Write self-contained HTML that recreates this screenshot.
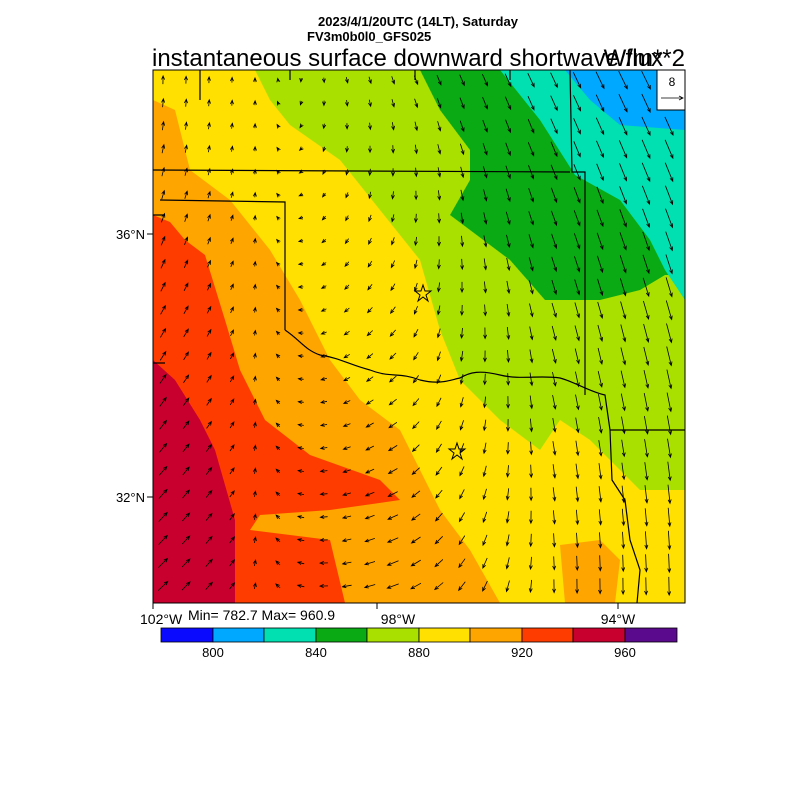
<!DOCTYPE html>
<html><head><meta charset="utf-8"><style>
body{margin:0;background:#fff;width:800px;height:800px;overflow:hidden;font-family:"Liberation Sans",sans-serif}
</style></head><body>
<svg id="s" width="800" height="800" xmlns="http://www.w3.org/2000/svg" font-family="Liberation Sans, sans-serif">
<defs><clipPath id="c"><rect x="153" y="70" width="532" height="533"/></clipPath></defs>
<text x="418" y="26" font-size="13" font-weight="bold" text-anchor="middle">2023/4/1/20UTC (14LT), Saturday</text>
<text x="307" y="41" font-size="13" font-weight="bold">FV3m0b0l0_GFS025</text>
<text x="152" y="66" font-size="24">instantaneous surface downward shortwave flux</text>
<text x="685" y="66" font-size="24" text-anchor="end">W/m**2</text>
<g clip-path="url(#c)">
<rect x="153" y="70" width="532" height="533" fill="#ffe000"/>
<polygon fill="#aae000" points="255,70 270,100 290,125 340,160 380,210 420,260 440,330 460,380 500,420 540,450 560,420 590,440 640,490 685,490 685,70"/>
<polygon fill="#0aaa14" points="420,70 440,110 470,150 470,180 450,215 510,260 545,300 600,300 640,290 665,275 685,275 685,70"/>
<polygon fill="#00e0b0" points="500,70 540,120 575,175 620,200 650,240 665,270 685,300 685,70"/>
<polygon fill="#00a8ff" points="565,70 590,100 620,125 685,130 685,70"/>
<polygon fill="#ffa500" points="153,100 175,110 190,170 230,200 270,250 300,300 330,360 360,400 400,430 420,470 440,510 470,550 500,603 153,603"/>
<polygon fill="#ffa500" points="560,545 600,540 620,560 615,603 565,603"/>
<polygon fill="#ff3c00" points="153,215 170,222 185,240 205,255 225,320 240,370 265,420 310,455 380,480 400,500 330,510 260,515 250,530 330,540 345,603 153,603"/>
<polygon fill="#c8002d" points="153,360 175,380 200,420 215,450 235,520 235,603 153,603"/>
<g fill="none" stroke="#000" stroke-width="1.2">
<path d="M153,170 L570,172 M160,200 L285,202 L285,330 M570,70 L572,172 L585,172 L585,395 M153,215 L165,215 M153,363 L165,363 M200,70 L200,100 M290,70 L290,80 M415,70 L415,80 M510,70 L510,80"/>
<path d="M285,330 C300,340 305,350 320,355 C340,358 350,365 370,370 C390,378 400,372 420,380 C440,385 450,380 460,378 C470,372 480,370 500,375 C520,380 540,375 560,378 C575,382 590,392 605,395 L610,430 L685,430 M610,430 L612,480 L625,500 L630,540 L640,570 L637,603"/>
</g>
</g>
<g id="arr" stroke="#000" stroke-width="0.8" fill="none"></g>
<g fill="none" stroke="#000" stroke-width="1">
<polygon points="423,285 425,291 431,291 426,295 428,301 423,297 418,301 420,295 415,291 421,291"/>
<polygon points="457,443 459,449 465,449 460,453 462,459 457,455 452,459 454,453 449,449 455,449"/>
</g>
<rect x="153" y="70" width="532" height="533" fill="none" stroke="#000" stroke-width="1"/>
<rect x="657" y="70" width="28" height="40" fill="#fff" stroke="#000"/>
<text x="672" y="86" font-size="12" text-anchor="middle">8</text>
<path d="M661,98 L683,98 M679,96 L683,98 L679,100" stroke="#000" fill="none" stroke-width="0.8"/>
<path d="M147,234 L153,234 M147,497 L153,497 M377,603 L377,609 M618,603 L618,609 M153,603 L153,609" stroke="#000"/>
<text x="145" y="239" font-size="13" text-anchor="end">36°N</text>
<text x="145" y="502" font-size="13" text-anchor="end">32°N</text>
<text x="140" y="624" font-size="14">102°W</text>
<text x="188" y="620" font-size="14">Min= 782.7 Max= 960.9</text>
<text x="398" y="624" font-size="14" text-anchor="middle">98°W</text>
<text x="618" y="624" font-size="14" text-anchor="middle">94°W</text>
<g stroke="#000" stroke-width="0.8">
<rect x="161" y="628" width="52" height="14" fill="#0a0aff"/>
<rect x="213" y="628" width="51" height="14" fill="#00a8ff"/>
<rect x="264" y="628" width="52" height="14" fill="#00e0b0"/>
<rect x="316" y="628" width="51" height="14" fill="#0aaa14"/>
<rect x="367" y="628" width="52" height="14" fill="#aae000"/>
<rect x="419" y="628" width="51" height="14" fill="#ffe000"/>
<rect x="470" y="628" width="52" height="14" fill="#ffa500"/>
<rect x="522" y="628" width="51" height="14" fill="#ff3c00"/>
<rect x="573" y="628" width="52" height="14" fill="#c8002d"/>
<rect x="625" y="628" width="52" height="14" fill="#5a0a8c"/>
</g>
<g font-size="13" text-anchor="middle">
<text x="213" y="657">800</text><text x="316" y="657">840</text><text x="419" y="657">880</text><text x="522" y="657">920</text><text x="625" y="657">960</text>
</g>
</svg>
<script>
var g=document.getElementById('arr'),h='';
for(var y=80;y<600;y+=23){for(var x=163;x<680;x+=23){
if(x>655&&y<112)continue;
var nx=(x-153)/532,ny=(y-70)/533;
var u=0.45*Math.max(0,0.25-nx)/0.25*ny+0.7*(1-ny)*Math.max(0,nx-0.3)-0.5*ny*Math.max(0,1-Math.abs(nx-0.45)/0.3);
var v=1.3*(nx-0.32)+0.1*(1-ny);
var m=Math.sqrt(u*u+v*v)||0.01,L=Math.min(20,3+18*m);
var dx=u/m*L,dy=v/m*L,x0=x-dx/2,y0=y-dy/2,x1=x+dx/2,y1=y+dy/2;
var a=Math.atan2(dy,dx),hl=4;
h+='<path d="M'+x0.toFixed(1)+','+y0.toFixed(1)+'L'+x1.toFixed(1)+','+y1.toFixed(1)+'M'+(x1-hl*Math.cos(a-0.4)).toFixed(1)+','+(y1-hl*Math.sin(a-0.4)).toFixed(1)+'L'+x1.toFixed(1)+','+y1.toFixed(1)+'L'+(x1-hl*Math.cos(a+0.4)).toFixed(1)+','+(y1-hl*Math.sin(a+0.4)).toFixed(1)+'"/>';
}}
g.innerHTML=h;
</script>
</body></html>
